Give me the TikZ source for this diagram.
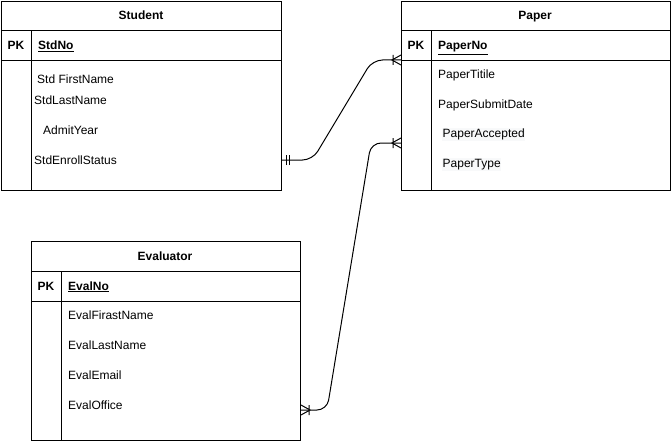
\documentclass[tikz,border=0pt]{standalone}
\usepackage{fontspec}
\setmainfont{Liberation Sans}
\definecolor{hl}{RGB}{248,249,250}
\begin{document}
\begin{tikzpicture}[x=1pt,y=-1pt,
  box/.style={draw,line width=1pt,inner sep=0pt,anchor=north west},
  ttl/.style={font=\fontsize{12}{14}\selectfont\bfseries,inner sep=0pt,text height=8pt,text depth=0pt},
  fld/.style={font=\fontsize{12}{14}\selectfont,inner sep=0pt,anchor=west,text height=8pt,text depth=0pt},
  rel/.style={line width=1pt,rounded corners=10pt},
  relmark/.style={line width=1pt}]
\useasboundingbox (0,0) rectangle (671,441);
% Student
\node[box,minimum width=280pt,minimum height=189pt] (student) at (1,1) {};
\draw[line width=1pt] (1,31) -- (281,31) (1,61) -- (281,61) (31,31) -- (31,190);
\node[ttl] (studentT) at (141,16) {Student};
\node[ttl] (studentPK) at (16,46) {PK};
\node[ttl,anchor=west] (studentK) at (38,46) {\underline{StdNo}};
\node[fld] (s1) at (37,80) {Std FirstName};
\node[fld] (s2) at (34,100) {StdLastName};
\node[fld] (s3) at (43,130) {AdmitYear};
\node[fld] (s4) at (34,160) {StdEnrollStatus};
% Paper
\node[box,minimum width=269pt,minimum height=189pt] (paper) at (401,1) {};
\draw[line width=1pt] (401,31) -- (670,31) (401,61) -- (670,61) (431,31) -- (431,190);
\node[ttl] (paperT) at (535,16) {Paper};
\node[ttl] (paperPK) at (416,46) {PK};
\node[ttl,anchor=west] (paperK) at (438,46) {\underline{PaperNo}};
\node[fld] (p1) at (438,75) {PaperTitile};
\node[fld] (p2) at (438,105) {PaperSubmitDate};
\node[fld,fill=hl,inner xsep=0.5pt,inner ysep=1pt,text depth=3pt] (p3) at (442,134.5) {PaperAccepted};
\node[fld,fill=hl,inner xsep=0.5pt,inner ysep=1pt,text depth=3pt] (p4) at (442,164.5) {PaperType};
% Evaluator
\node[box,minimum width=269pt,minimum height=199pt] (eval) at (31,241) {};
\draw[line width=1pt] (31,271) -- (300,271) (31,301) -- (300,301) (61,271) -- (61,440);
\node[ttl] (evalT) at (165,256) {Evaluator};
\node[ttl] (evalPK) at (46,286) {PK};
\node[ttl,anchor=west] (evalK) at (68,286) {\underline{EvalNo}};
\node[fld] (e1) at (68,315) {EvalFirastName};
\node[fld] (e2) at (68,345) {EvalLastName};
\node[fld] (e3) at (68,375) {EvalEmail};
\node[fld] (e4) at (68,405) {EvalOffice};
% attachment points
\coordinate (sA) at (281,160);
\coordinate (pA) at (401,60);
\coordinate (pB) at (401,143);
\coordinate (eA) at (301,410);
% Student -- Paper
\draw[rel] (sA) -- (312.5,160) -- (372.5,60) -- (pA);
\draw[relmark] ([xshift=5pt,yshift=-5pt]sA) -- ([xshift=5pt,yshift=5pt]sA)
            ([xshift=8pt,yshift=-5pt]sA) -- ([xshift=8pt,yshift=5pt]sA);
\draw[relmark] ([xshift=-8pt,yshift=-5pt]pA) -- ([xshift=-8pt,yshift=5pt]pA)
            ([xshift=0pt,yshift=-5pt]pA) -- ([xshift=-9pt]pA) -- ([xshift=0pt,yshift=5pt]pA);
% Evaluator -- Paper
\draw[rel] (pB) -- (371,143) -- (327,410) -- (eA);
\draw[relmark] ([xshift=-8pt,yshift=-5pt]pB) -- ([xshift=-8pt,yshift=5pt]pB)
            ([xshift=0pt,yshift=-5pt]pB) -- ([xshift=-9pt]pB) -- ([xshift=0pt,yshift=5pt]pB);
\draw[relmark] ([xshift=8pt,yshift=-5pt]eA) -- ([xshift=8pt,yshift=5pt]eA)
            ([xshift=0pt,yshift=-5pt]eA) -- ([xshift=9pt]eA) -- ([xshift=0pt,yshift=5pt]eA);
\end{tikzpicture}
\end{document}
